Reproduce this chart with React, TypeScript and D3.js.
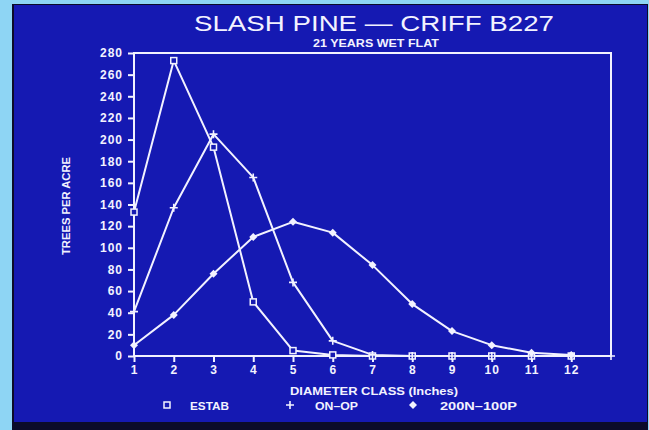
import React, { useEffect, useRef } from 'react';
import * as d3 from 'd3';

// diameter classes (inches)
const classes = [1, 2, 3, 4, 5, 6, 7, 8, 9, 10, 11, 12, 13];
const xTickLabels = ['1', '2', '3', '4', '5', '6', '7', '8', '9', '10', '11', '12'];
const yTicks = [0, 20, 40, 60, 80, 100, 120, 140, 160, 180, 200, 220, 240, 260, 280];

// trees per acre per series
const estab = [133, 273, 193, 50, 5, 1, 0, 0, 0, 0, 0, 0];
const on0p = [41, 137, 205, 165, 68, 14, 1, 0, 0, 0, 0, 0, 0];
const n200p100 = [10, 38, 76, 110, 124, 114, 84, 48, 23, 10, 3, 1];

const seriesNames = ['ESTAB', 'ON\u2013OP', '200N\u2013100P'];
const markers = ['square', 'plus', 'diamond'];

const W = 649;
const H = 430;
const BLUE = '#1519b2';
const INK = '#f2f2ff';

function drawMarker(g: any, kind: string, x: number, y: number) {
  if (kind === 'square') {
    g.append('rect')
      .attr('x', x - 3).attr('y', y - 3)
      .attr('width', 6).attr('height', 6)
      .attr('fill', BLUE).attr('stroke', INK).attr('stroke-width', 1.5);
  } else if (kind === 'plus') {
    g.append('path')
      .attr('d', `M${x - 4},${y}H${x + 4}M${x},${y - 4}V${y + 4}`)
      .attr('stroke', INK).attr('stroke-width', 1.6).attr('fill', 'none');
  } else {
    g.append('path')
      .attr('d', `M${x},${y - 4}L${x + 4},${y}L${x},${y + 4}L${x - 4},${y}Z`)
      .attr('fill', INK).attr('stroke', 'none');
  }
}

export default function App() {
  const ref = useRef<SVGSVGElement>(null);

  useEffect(() => {
    const svg = d3.select(ref.current);
    svg.selectAll('*').remove();

    // slide look: light surround, blue panel, dark strip below
    svg.append('rect').attr('width', W).attr('height', H).attr('fill', '#8ed5f4');
    svg.append('rect').attr('x', 12).attr('y', 4).attr('width', 636).attr('height', 426).attr('fill', '#0b0b2a');
    svg.append('rect').attr('x', 14).attr('y', 5).attr('width', 633).attr('height', 417).attr('fill', BLUE);

    const x = d3.scaleLinear().domain([1, 13]).range([134, 611]);
    const y = d3.scaleLinear().domain([0, 280]).range([356, 53]);

    const font = 'Arial, "Liberation Sans", sans-serif';

    // title
    svg.append('text')
      .attr('x', 374).attr('y', 31)
      .attr('text-anchor', 'middle')
      .attr('textLength', 360).attr('lengthAdjust', 'spacingAndGlyphs')
      .style('font-family', font).style('font-size', '22px')
      .attr('fill', INK)
      .text('SLASH PINE \u2014 CRIFF B227');

    svg.append('text')
      .attr('x', 376).attr('y', 47)
      .attr('text-anchor', 'middle')
      .attr('textLength', 126).attr('lengthAdjust', 'spacingAndGlyphs')
      .style('font-family', font).style('font-size', '11px').style('font-weight', 'bold')
      .attr('fill', INK)
      .text('21 YEARS  WET FLAT');

    // frame
    svg.append('rect')
      .attr('x', x(1)).attr('y', y(280))
      .attr('width', x(13) - x(1)).attr('height', y(0) - y(280))
      .attr('fill', 'none').attr('stroke', INK).attr('stroke-width', 2);

    // y axis
    const yAxis = d3.axisLeft(y).tickValues(yTicks).tickSize(6).tickPadding(5).tickFormat((d: any) => String(d));
    const gy = svg.append('g').attr('transform', `translate(${x(1)},0)`).call(yAxis);
    gy.select('.domain').remove();
    gy.selectAll('line').attr('stroke', INK).attr('stroke-width', 2);
    gy.selectAll('text')
      .attr('fill', INK)
      .style('font-family', font).style('font-size', '12px').style('font-weight', 'bold')
      .style('letter-spacing', '1px');

    // x axis
    const xAxis = d3.axisBottom(x)
      .tickValues(classes.slice(0, 12))
      .tickSize(-6).tickPadding(9)
      .tickFormat((d: any, i: number) => xTickLabels[i]);
    const gx = svg.append('g').attr('transform', `translate(0,${y(0)})`).call(xAxis);
    gx.select('.domain').remove();
    gx.selectAll('line').attr('stroke', INK).attr('stroke-width', 2).attr('y2', 6).attr('y1', 0);
    gx.selectAll('text')
      .attr('fill', INK)
      .style('font-family', font).style('font-size', '12px').style('font-weight', 'bold')
      .style('letter-spacing', '1px');

    // axis titles
    svg.append('text')
      .attr('transform', `translate(70,206) rotate(-90)`)
      .attr('text-anchor', 'middle')
      .attr('textLength', 98).attr('lengthAdjust', 'spacingAndGlyphs')
      .style('font-family', font).style('font-size', '11px').style('font-weight', 'bold')
      .attr('fill', INK)
      .text('TREES PER ACRE');

    svg.append('text')
      .attr('x', 374).attr('y', 395)
      .attr('text-anchor', 'middle')
      .attr('textLength', 168).attr('lengthAdjust', 'spacingAndGlyphs')
      .style('font-family', font).style('font-size', '11px').style('font-weight', 'bold')
      .attr('fill', INK)
      .text('DIAMETER CLASS (Inches)');

    // series
    const allSeries = [estab, on0p, n200p100];
    const line = d3.line<number>()
      .x((d, i) => x(classes[i]))
      .y((d) => y(d));

    allSeries.forEach((vals) => {
      svg.append('path')
        .datum(vals)
        .attr('d', line)
        .attr('fill', 'none')
        .attr('stroke', INK)
        .attr('stroke-width', 2)
        .attr('stroke-linejoin', 'round');
    });

    allSeries.forEach((vals, s) => {
      const g = svg.append('g');
      vals.forEach((v, i) => drawMarker(g, markers[s], x(classes[i]), y(v)));
    });

    // legend
    const legendX = [167, 290, 413];
    const legendTextX = [190, 315, 440];
    const legendW = [39, 43, 77];
    seriesNames.forEach((name, i) => {
      const g = svg.append('g');
      drawMarker(g, markers[i], legendX[i], 405);
      svg.append('text')
        .attr('x', legendTextX[i]).attr('y', 410)
        .attr('textLength', legendW[i]).attr('lengthAdjust', 'spacingAndGlyphs')
        .style('font-family', font).style('font-size', '11px').style('font-weight', 'bold')
        .attr('fill', INK)
        .text(name);
    });
  }, []);

  return (
    <div style={{ position: 'fixed', left: 0, top: 0 }}>
      <svg ref={ref} width={W} height={H} style={{ display: 'block' }} />
    </div>
  );
}
